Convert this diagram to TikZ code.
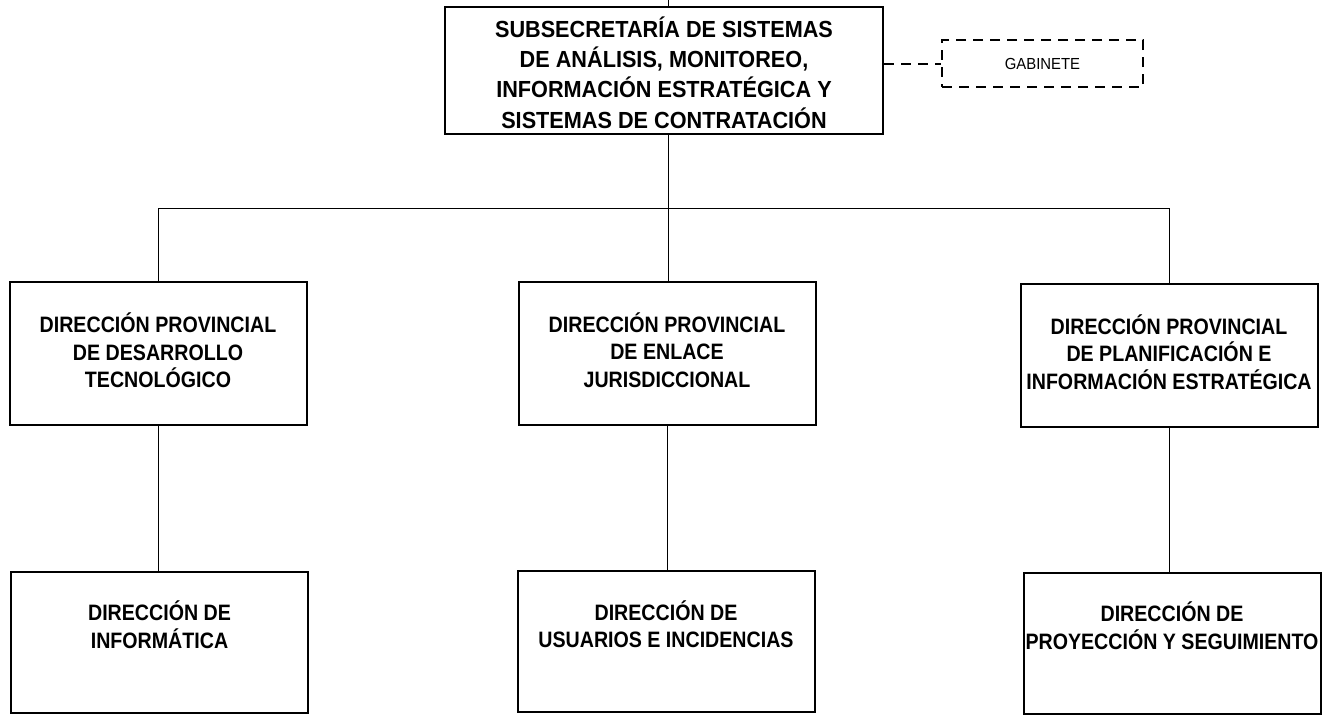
\documentclass[tikz,border=0pt]{standalone}
\usepackage{fontspec}
\setmainfont{Liberation Sans}
\newfontfamily\fA[FakeStretch=0.88]{Liberation Sans}
\newfontfamily\fB[FakeStretch=0.93]{Liberation Sans}
\begin{document}
\begin{tikzpicture}[x=1pt,y=-1pt,
  box/.style={draw, line width=2pt, rectangle, align=center, inner sep=0pt,
    font=\fA\bfseries\fontsize{22.3}{27.5}\selectfont, text depth=0pt},
  lvone/.style={box, minimum width=297pt, minimum height=143pt, text height=68pt},
  lvtwo/.style={box, minimum width=297pt, minimum height=141pt, text height=12pt},
  topbox/.style={box, minimum width=438pt, minimum height=127pt,
    font=\fB\bfseries\fontsize{23.3}{30.3}\selectfont, text height=115pt},
  gabbox/.style={draw, line width=2pt, dash pattern=on 10pt off 7pt, rectangle,
    minimum width=201pt, minimum height=47pt, inner sep=0pt,
    font=\fB\fontsize{16}{18}\selectfont},
  conn/.style={line width=1pt},
  dconn/.style={line width=2pt, dash pattern=on 10pt off 7pt}]
\useasboundingbox (0,0) rectangle (1325,715);

\node[topbox] (top) at (664,70.5) {SUBSECRETARÍA DE SISTEMAS\\DE ANÁLISIS, MONITOREO,\\INFORMACIÓN ESTRATÉGICA Y\\SISTEMAS DE CONTRATACIÓN};
\node[gabbox] (gab) at (1042.5,63.5) {GABINETE};

\node[lvone] (d1) at (158,353.5) {DIRECCIÓN PROVINCIAL\\DE DESARROLLO\\TECNOLÓGICO};
\node[lvone] (d2) at (667,353) {DIRECCIÓN PROVINCIAL\\DE ENLACE\\JURISDICCIONAL};
\node[lvone] (d3) at (1169,355) {DIRECCIÓN PROVINCIAL\\DE PLANIFICACIÓN E\\INFORMACIÓN ESTRATÉGICA};

\node[lvtwo] (e1) at (159.5,642) {DIRECCIÓN DE\\INFORMÁTICA};
\node[lvtwo] (e2) at (666,641.5) {DIRECCIÓN DE\\USUARIOS E INCIDENCIAS};
\node[lvtwo] (e3) at (1172,643) {DIRECCIÓN DE\\PROYECCIÓN Y SEGUIMIENTO};

\coordinate (in) at (668,0);
\coordinate (bus) at (668,208);
\draw[conn] (in) -- (in |- top.north);
\draw[conn] (bus |- top.south) -- (bus);
\draw[conn] (bus) -| (d1.north);
\draw[conn] (bus) -| (d3.north);
\draw[conn] (bus) -- (bus |- d2.north);
\draw[dconn] (top.east |- gab.west) -- (gab.west);

\draw[conn] (d1.south) -- (d1.south |- e1.north);
\draw[conn] (d2.south) -- (d2.south |- e2.north);
\draw[conn] (d3.south) -- (d3.south |- e3.north);
\end{tikzpicture}
\end{document}
